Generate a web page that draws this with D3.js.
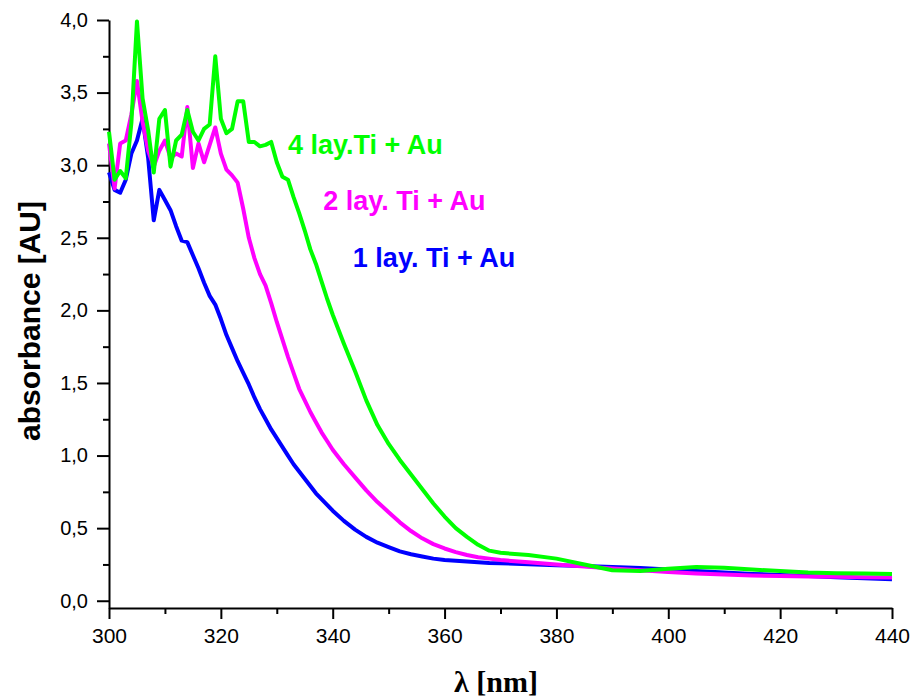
<!DOCTYPE html>
<html>
<head>
<meta charset="utf-8">
<script src="https://cdn.jsdelivr.net/npm/d3@7"></script>
<style>
  body { margin: 0; background: #fff; }
  svg text { font-family: "Liberation Sans", Arial, sans-serif; }
</style>
</head>
<body>
<svg id="chart"></svg>
<script>
// wavelength grid (nm), shared by the three spectra
const wavelengths = [
  300, 301, 302, 303, 304, 305, 306, 307, 308, 309,
  310, 311, 312, 313, 314, 315, 316, 317, 318, 319,
  320, 321, 322, 323, 324, 325, 326, 327, 328, 329,
  330, 331, 332, 333, 334, 335, 336, 337, 338, 339,
  340, 342, 344, 346, 348, 350, 352, 354, 356, 358,
  360, 362, 364, 366, 368, 370, 375, 380, 385, 390,
  395, 400, 405, 410, 415, 420, 425, 430, 435, 440
];

// 1 lay. Ti + Au
const abs1 = [
  2.95, 2.83, 2.81, 2.90, 3.08, 3.17, 3.32, 3.05, 2.62, 2.83,
  2.76, 2.69, 2.58, 2.48, 2.47, 2.38, 2.29, 2.19, 2.10, 2.04,
  1.94, 1.83, 1.74, 1.65, 1.57, 1.49, 1.40, 1.32, 1.25, 1.18,
  1.12, 1.06, 1.00, 0.94, 0.89, 0.84, 0.79, 0.74, 0.70, 0.66,
  0.62, 0.55, 0.49, 0.44, 0.40, 0.37, 0.34, 0.32, 0.305, 0.29,
  0.28, 0.275, 0.27, 0.265, 0.26, 0.258, 0.252, 0.245, 0.24, 0.232,
  0.225, 0.215, 0.205, 0.195, 0.185, 0.178, 0.17, 0.162, 0.155, 0.148
];

// 2 lay. Ti + Au
const abs2 = [
  3.15, 2.84, 3.15, 3.17, 3.35, 3.58, 3.30, 3.10, 2.99, 3.10,
  3.17, 3.05, 3.08, 3.06, 3.40, 2.98, 3.15, 3.02, 3.14, 3.26,
  3.08, 2.97, 2.93, 2.88, 2.70, 2.50, 2.36, 2.25, 2.17, 2.05,
  1.92, 1.80, 1.68, 1.57, 1.46, 1.38, 1.30, 1.23, 1.16, 1.10,
  1.04, 0.94, 0.85, 0.76, 0.68, 0.61, 0.54, 0.48, 0.43, 0.39,
  0.36, 0.335, 0.315, 0.30, 0.29, 0.28, 0.265, 0.25, 0.235, 0.222,
  0.21, 0.198, 0.188, 0.18, 0.174, 0.17, 0.167, 0.165, 0.162, 0.16
];

// 4 lay.Ti + Au
const abs4 = [
  3.23, 2.90, 2.96, 2.91, 3.29, 3.99, 3.46, 3.24, 2.95, 3.32,
  3.38, 2.99, 3.17, 3.21, 3.38, 3.23, 3.17, 3.25, 3.28, 3.75,
  3.32, 3.22, 3.25, 3.44, 3.44, 3.16, 3.16, 3.13, 3.14, 3.16,
  3.02, 2.92, 2.90, 2.78, 2.67, 2.55, 2.42, 2.32, 2.20, 2.08,
  1.97, 1.77, 1.58, 1.38, 1.21, 1.08, 0.97, 0.87, 0.77, 0.67,
  0.58, 0.50, 0.44, 0.385, 0.345, 0.33, 0.315, 0.29, 0.25, 0.21,
  0.205, 0.22, 0.232, 0.228, 0.215, 0.205, 0.195, 0.19, 0.187, 0.185
];

const seriesNames = ["1 lay. Ti + Au", "2 lay. Ti + Au", "4 lay.Ti + Au"];

const xTicks = [300, 320, 340, 360, 380, 400, 420, 440];
const xMinorTicks = [310, 330, 350, 370, 390, 410, 430];
const yTicks = [0, 0.5, 1.0, 1.5, 2.0, 2.5, 3.0, 3.5, 4.0];
const yMinorTicks = [0.25, 0.75, 1.25, 1.75, 2.25, 2.75, 3.25, 3.75];

const WIDTH = 911;
const HEIGHT = 700;
const PLOT = {left: 109, right: 892, top: 20, bottom: 608};
const COLORS = ["#0000ff", "#ff00ff", "#00ff00"];

const svg = d3.select('#chart')
  .attr('width', WIDTH)
  .attr('height', HEIGHT);

const x = d3.scaleLinear().domain([300, 440]).range([PLOT.left, PLOT.right]);
const y = d3.scaleLinear().domain([-0.05, 4.0]).range([PLOT.bottom, PLOT.top]);

// comma decimal separator like the original
const fmt = d3.formatLocale({decimal: ",", thousands: ".", grouping: [3], currency: ["", ""]}).format(".1f");

// minor ticks first, major on top
svg.append('g')
  .attr('transform', `translate(0,${PLOT.bottom})`)
  .call(d3.axisBottom(x).tickValues(xMinorTicks).tickSize(6).tickSizeOuter(0).tickFormat(''))
  .call(g => g.select('.domain').remove());

const xAxis = svg.append('g')
  .attr('class', 'x-axis')
  .attr('transform', `translate(0,${PLOT.bottom})`)
  .call(d3.axisBottom(x).tickValues(xTicks).tickSize(11).tickSizeOuter(0).tickPadding(9).tickFormat(d3.format('d')));

svg.append('g')
  .attr('transform', `translate(${PLOT.left},0)`)
  .call(d3.axisLeft(y).tickValues(yMinorTicks).tickSize(6).tickSizeOuter(0).tickFormat(''))
  .call(g => g.select('.domain').remove());

const yAxis = svg.append('g')
  .attr('class', 'y-axis')
  .attr('transform', `translate(${PLOT.left},0)`)
  .call(d3.axisLeft(y).tickValues(yTicks).tickSize(12).tickSizeOuter(0).tickPadding(9).tickFormat(fmt));

svg.selectAll('.tick line, .domain')
  .attr('stroke', '#000')
  .attr('stroke-width', 2);

svg.selectAll('.tick text')
  .attr('fill', '#000')
  .style('font-size', '20px');
xAxis.selectAll('.tick text').style('font-size', '21px');

// the spectra
const spectra = [abs1, abs2, abs4];
const line = d3.line()
  .x((d, i) => x(wavelengths[i]))
  .y(d => y(d));

svg.append('g')
  .attr('class', 'spectra')
  .selectAll('path')
  .data(spectra)
  .enter()
  .append('path')
  .attr('d', line)
  .attr('fill', 'none')
  .attr('stroke', (d, i) => COLORS[i])
  .attr('stroke-width', 4)
  .attr('stroke-linejoin', 'round');

// curve labels, anchored in data units
const labelAt = [[343.6, 2.30], [338.3, 2.69], [332.0, 3.08]];
svg.append('g')
  .selectAll('text')
  .data(seriesNames)
  .enter()
  .append('text')
  .attr('x', (d, i) => x(labelAt[i][0]))
  .attr('y', (d, i) => y(labelAt[i][1]))
  .attr('fill', (d, i) => COLORS[i])
  .style('font-size', '27px')
  .style('font-weight', 'bold')
  .text(d => d);

// axis titles
svg.append('text')
  .attr('transform', `translate(40, 321) rotate(-90)`)
  .style('text-anchor', 'middle')
  .style('font-size', '30px')
  .style('font-weight', 'bold')
  .text('absorbance [AU]');

svg.append('text')
  .attr('x', 496)
  .attr('y', 692)
  .style('text-anchor', 'middle')
  .style('font-family', '"Liberation Serif", "Times New Roman", serif')
  .style('font-size', '30px')
  .style('font-weight', 'bold')
  .text('λ [nm]');
</script>
</body>
</html>
